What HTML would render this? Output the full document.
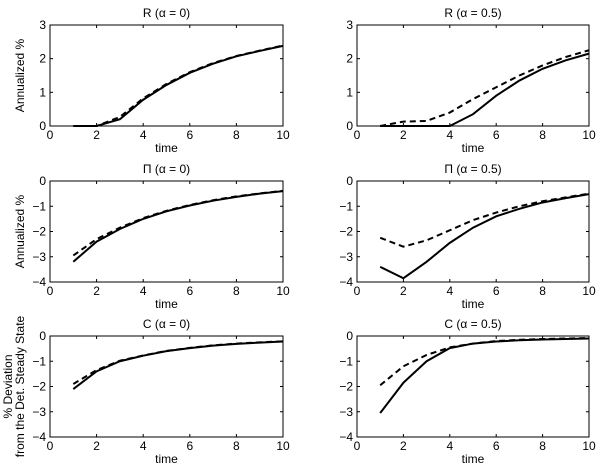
<!DOCTYPE html>
<html><head><meta charset="utf-8"><style>
html,body{margin:0;padding:0;background:#fff;width:600px;height:472px;overflow:hidden}
svg{font-family:"Liberation Sans",sans-serif;font-size:12px}
</style></head><body>
<svg id="fig" width="600" height="472" xmlns="http://www.w3.org/2000/svg"></svg>
<script>
const times=[1,2,3,4,5,6,7,8,9,10];
const rA0Solid=[0,0,0.2,0.78,1.22,1.58,1.85,2.07,2.23,2.38];
const rA0Dash=[0,0,0.27,0.82,1.25,1.6,1.87,2.08,2.24,2.39];
const rA5Solid=[0,0,0,0,0.35,0.9,1.35,1.7,1.95,2.15];
const rA5Dash=[0,0.13,0.15,0.4,0.8,1.15,1.5,1.8,2.05,2.25];
const pA0Solid=[-3.2,-2.4,-1.9,-1.5,-1.2,-0.97,-0.78,-0.63,-0.5,-0.4];
const pA0Dash=[-2.95,-2.3,-1.85,-1.47,-1.18,-0.95,-0.76,-0.61,-0.49,-0.39];
const pA5Solid=[-3.4,-3.85,-3.2,-2.45,-1.85,-1.4,-1.1,-0.85,-0.68,-0.52];
const pA5Dash=[-2.25,-2.6,-2.35,-1.95,-1.55,-1.25,-1.0,-0.8,-0.65,-0.5];
const cA0Solid=[-2.1,-1.4,-1.0,-0.78,-0.6,-0.48,-0.38,-0.31,-0.26,-0.22];
const cA0Dash=[-1.9,-1.35,-0.98,-0.77,-0.59,-0.47,-0.37,-0.3,-0.25,-0.21];
const cA5Solid=[-3.05,-1.85,-1.0,-0.48,-0.3,-0.22,-0.17,-0.14,-0.12,-0.1];
const cA5Dash=[-1.95,-1.2,-0.75,-0.45,-0.3,-0.2,-0.15,-0.12,-0.1,-0.08];
const xTicks=[0,2,4,6,8,10];
const yTicksR=[0,1,2,3];
const yTicksN=[-4,-3,-2,-1,0];
const NS='http://www.w3.org/2000/svg';
const svg=document.getElementById('fig');
function mk(t,a,p){const e=document.createElementNS(NS,t);for(const k in a)e.setAttribute(k,a[k]);(p||svg).appendChild(e);return e;}
const panels=[
 {x0:50,x1:283,y0:25,y1:126,ymin:0,ymax:3,yt:yTicksR,title:'R (α = 0)',s:rA0Solid,d:rA0Dash,yl:['Annualized %'],n:'r-alpha-0'},
 {x0:357,x1:589,y0:25,y1:126,ymin:0,ymax:3,yt:yTicksR,title:'R (α = 0.5)',s:rA5Solid,d:rA5Dash,yl:null,n:'r-alpha-05'},
 {x0:50,x1:283,y0:181,y1:282,ymin:-4,ymax:0,yt:yTicksN,title:'Π (α = 0)',s:pA0Solid,d:pA0Dash,yl:['Annualized %'],n:'pi-alpha-0'},
 {x0:357,x1:589,y0:181,y1:282,ymin:-4,ymax:0,yt:yTicksN,title:'Π (α = 0.5)',s:pA5Solid,d:pA5Dash,yl:null,n:'pi-alpha-05'},
 {x0:50,x1:283,y0:336,y1:437,ymin:-4,ymax:0,yt:yTicksN,title:'C (α = 0)',s:cA0Solid,d:cA0Dash,yl:['% Deviation','from the Det. Steady State'],n:'c-alpha-0'},
 {x0:357,x1:589,y0:336,y1:437,ymin:-4,ymax:0,yt:yTicksN,title:'C (α = 0.5)',s:cA5Solid,d:cA5Dash,yl:null,n:'c-alpha-05'}
];
panels.forEach(p=>{
 const g=mk('g',{});
 
 
 const sx=v=>p.x0+(v-0)/(10-0)*(p.x1-p.x0);
 const sy=v=>p.y1-(v-p.ymin)/(p.ymax-p.ymin)*(p.y1-p.y0);
 mk('rect',{x:p.x0,y:p.y0,width:p.x1-p.x0,height:p.y1-p.y0,fill:'none',stroke:'#000','stroke-width':1},g);
 xTicks.forEach(t=>{const x=sx(t);
  mk('line',{x1:x,x2:x,y1:p.y1,y2:p.y1-3,stroke:'#000'},g);
  mk('line',{x1:x,x2:x,y1:p.y0,y2:p.y0+3,stroke:'#000'},g);
  const tx=mk('text',{x:x,y:p.y1+13,'text-anchor':'middle'},g);tx.textContent=t;
  
  });
 p.yt.forEach(t=>{const y=sy(t);
  mk('line',{x1:p.x0,x2:p.x0+3,y1:y,y2:y,stroke:'#000'},g);
  mk('line',{x1:p.x1,x2:p.x1-3,y1:y,y2:y,stroke:'#000'},g);
  const tx=mk('text',{x:p.x0-4,y:y+4,'text-anchor':'end'},g);tx.textContent=t<0?'−'+(-t):t;
  
  });
 const ti=mk('text',{x:(p.x0+p.x1)/2,y:p.y0-8,'text-anchor':'middle'},g);ti.textContent=p.title;
 
 
 const xl=mk('text',{x:(p.x0+p.x1)/2,y:p.y1+26,'text-anchor':'middle'},g);xl.textContent='time';
 
 
 if(p.yl){const cy=(p.y0+p.y1)/2;const n=p.yl.length;
  p.yl.forEach((s,i)=>{const x=p.x0-32+(i-(n-1)/2)*12+(n>1?0:6);
   const t=mk('text',{x:x,y:cy,'text-anchor':'middle',transform:`rotate(-90 ${x} ${cy})`},g);t.textContent=s;
   
   });}
 const pts=a=>a.map((v,i)=>sx(times[i])+','+sy(v)).join(' ');
 const l1=mk('polyline',{points:pts(p.d),fill:'none',stroke:'#000','stroke-width':2,'stroke-dasharray':'6,4'},g);
 
 
 const l2=mk('polyline',{points:pts(p.s),fill:'none',stroke:'#000','stroke-width':2},g);
 
 
});
</script>
</body></html>
